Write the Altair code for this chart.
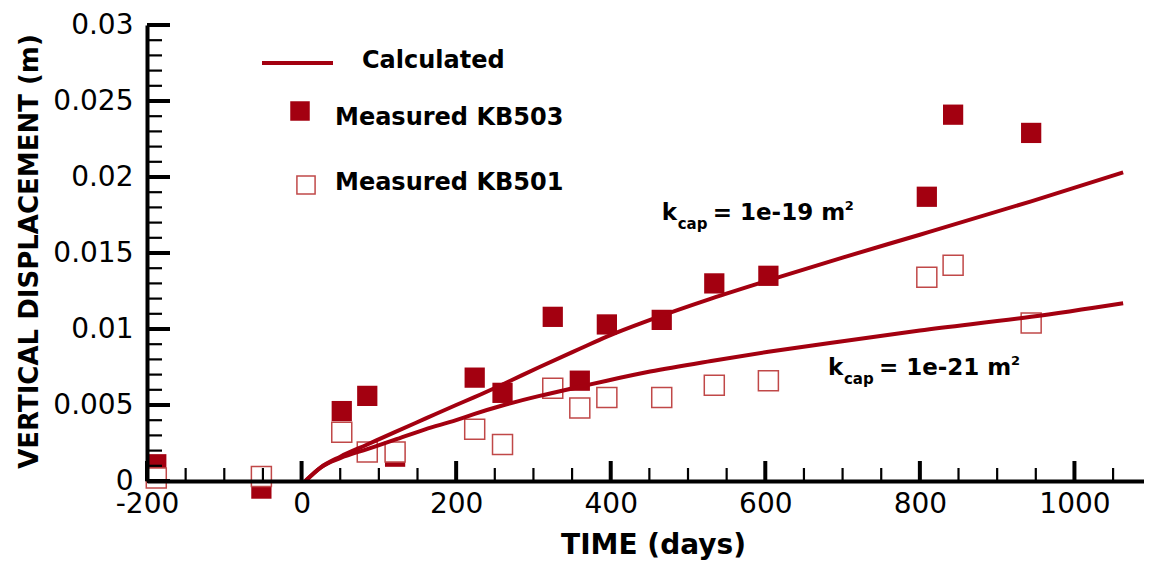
import altair as alt
import pandas as pd

# ---------------- data ----------------
meas_days = [-188, -52, 52, 85, 121, 224, 260, 325, 360, 395, 466, 534, 604, 809, 843, 944]
kb503 = [0.0011, -0.0005, 0.0046, 0.0056, 0.0016, 0.0068, 0.0058, 0.0108, 0.0066,
         0.0103, 0.0106, 0.0130, 0.0135, 0.0187, 0.0241, 0.0229]
kb501 = [0.0002, 0.0003, 0.0032, 0.0019, 0.0019, 0.0034, 0.0024, 0.0061, 0.0048,
         0.0055, 0.0055, 0.0063, 0.0066, 0.0134, 0.0142, 0.0104]

calc_days = [5, 25, 50, 85, 120, 160, 200, 223, 262, 308, 360, 395, 451, 530, 604, 700, 800, 944, 1063]
calc_k19 = [0.0, 0.0009, 0.0016, 0.0024, 0.0032, 0.0041, 0.0050, 0.0055, 0.0064, 0.0075,
            0.0087, 0.0095, 0.0106, 0.0120, 0.0132, 0.0147, 0.0162, 0.0184, 0.0203]
calc_k21 = [0.0, 0.0009, 0.0015, 0.0021, 0.0027, 0.0034, 0.0040, 0.0044, 0.0050, 0.0056,
            0.0062, 0.0066, 0.0072, 0.0079, 0.0085, 0.0092, 0.0099, 0.0108, 0.0117]

x_major = [-200, 0, 200, 400, 600, 800, 1000]
x_minor = [-150, -100, -50, 50, 100, 150, 250, 300, 350, 450, 500, 550, 650, 700, 750,
           850, 900, 950, 1050]
y_major = [0, 0.005, 0.01, 0.015, 0.02, 0.025, 0.03]
y_minor = [0.001, 0.002, 0.003, 0.004, 0.006, 0.007, 0.008, 0.009, 0.011, 0.012, 0.013,
           0.014, 0.016, 0.017, 0.018, 0.019, 0.021, 0.022, 0.023, 0.024, 0.026, 0.027,
           0.028, 0.029]

ann_day = [466, 681]
ann_val = [0.0172, 0.0070]
ann_text = ["= 1e-19 m", "= 1e-21 m"]

legend_labels = ["Calculated", "Measured KB503", "Measured KB501"]

# ---------------- style ----------------
RED = "#a30010"
OPEN = "#c04848"
FONT = "DejaVu Sans"
W, H = 997, 456

meas = pd.DataFrame({"day": meas_days, "kb503": kb503, "kb501": kb501})
calc = pd.DataFrame({"day": calc_days * 2,
                     "disp": calc_k19 + calc_k21,
                     "case": ["k19"] * len(calc_days) + ["k21"] * len(calc_days)})
xmaj = pd.DataFrame({"d": x_major})
xmin = pd.DataFrame({"d": x_minor})
ymaj = pd.DataFrame({"v": y_major})
ymin = pd.DataFrame({"v": y_minor})
ann = pd.DataFrame({"day": ann_day, "val": ann_val, "txt": ann_text})
one = pd.DataFrame({"k": [0]})

xs = alt.Scale(domain=[-200, 1090], nice=False, zero=False)
ys = alt.Scale(domain=[0, 0.03], nice=False, zero=False)

xax = alt.Axis(values=x_major, format="d", labelExpr="replace(datum.label, '\u2212', '-')",
               title="TIME (days)", grid=False, ticks=False,
               tickSize=0, labelFontSize=28, labelPadding=9, labelFlush=False,
               domainWidth=4, domainColor="black", labelColor="black",
               titleFontSize=28, titleFontWeight="bold", titleColor="black",
               titleX=506, titleY=64, titleBaseline="middle", titleAlign="center", zindex=1)
yax = alt.Axis(values=y_major, format="~g", title="VERTICAL DISPLACEMENT (m)", grid=False,
               ticks=False, tickSize=0, labelFontSize=28, labelPadding=14, labelFlush=False,
               domainWidth=4, domainColor="black", labelColor="black",
               titleFontSize=26, titleFontWeight="bold", titleColor="black",
               titleX=-118, titleY=226, titleAngle=270, titleBaseline="middle",
               titleAlign="center", zindex=1)

filled = alt.Chart(meas).mark_point(shape="square", filled=True, size=410, color=RED, opacity=1).encode(
    x=alt.X("day:Q", scale=xs, axis=xax),
    y=alt.Y("kb503:Q", scale=ys, axis=yax),
)
opened = alt.Chart(meas).mark_point(shape="square", filled=True, size=400, fill="white",
                                    stroke=OPEN, strokeWidth=1.5, opacity=1).encode(
    x=alt.X("day:Q", scale=xs),
    y=alt.Y("kb501:Q", scale=ys),
)
lines = alt.Chart(calc).mark_line(color=RED, strokeWidth=4, interpolate="monotone").encode(
    x=alt.X("day:Q", scale=xs),
    y=alt.Y("disp:Q", scale=ys),
    detail="case:N",
)

xt_major = alt.Chart(xmaj).mark_rule(color="black", strokeWidth=4).encode(
    x=alt.X("d:Q", scale=xs), y=alt.value(H), y2=alt.value(H - 20))
xt_minor = alt.Chart(xmin).mark_rule(color="black", strokeWidth=2.2).encode(
    x=alt.X("d:Q", scale=xs), y=alt.value(H), y2=alt.value(H - 13))
yt_major = alt.Chart(ymaj).mark_rule(color="black", strokeWidth=4).encode(
    y=alt.Y("v:Q", scale=ys), x=alt.value(0), x2=alt.value(23))
yt_minor = alt.Chart(ymin).mark_rule(color="black", strokeWidth=2.2).encode(
    y=alt.Y("v:Q", scale=ys), x=alt.value(0), x2=alt.value(15))

# annotations k_cap
ann_k = alt.Chart(ann).mark_text(text="k", font=FONT, fontWeight="bold", fontSize=23,
                                 align="left", baseline="alphabetic", color="black").encode(
    x=alt.X("day:Q", scale=xs), y=alt.Y("val:Q", scale=ys))
ann_sub = alt.Chart(ann).mark_text(text="cap", font=FONT, fontWeight="bold", fontSize=15,
                                   align="left", baseline="alphabetic", dx=16, dy=9,
                                   color="black").encode(
    x=alt.X("day:Q", scale=xs), y=alt.Y("val:Q", scale=ys))
ann_main = alt.Chart(ann).mark_text(font=FONT, fontWeight="bold", fontSize=23, align="left",
                                    baseline="alphabetic", dx=51, color="black").encode(
    x=alt.X("day:Q", scale=xs), y=alt.Y("val:Q", scale=ys), text="txt:N")
ann_sup = alt.Chart(ann).mark_text(text="2", font=FONT, fontWeight="bold", fontSize=13,
                                   align="left", baseline="alphabetic", dx=183, dy=-10,
                                   color="black").encode(
    x=alt.X("day:Q", scale=xs), y=alt.Y("val:Q", scale=ys))

# legend
leg_line = alt.Chart(one).mark_rule(color=RED, strokeWidth=4).encode(
    x=alt.value(115), x2=alt.value(186), y=alt.value(38))
leg_sq1 = alt.Chart(one).mark_point(shape="square", filled=True, size=380, color=RED, opacity=1).encode(
    x=alt.value(153), y=alt.value(86))
leg_sq2 = alt.Chart(one).mark_point(shape="square", filled=True, size=330, fill="white",
                                    stroke=OPEN, strokeWidth=1.5, opacity=1).encode(
    x=alt.value(159), y=alt.value(160))
leg_t1 = alt.Chart(one).mark_text(text=legend_labels[0], font=FONT, fontWeight="bold", fontSize=24,
                                  align="left", baseline="alphabetic", color="black").encode(
    x=alt.value(215), y=alt.value(43))
leg_t2 = alt.Chart(one).mark_text(text=legend_labels[1], font=FONT, fontWeight="bold", fontSize=24,
                                  align="left", baseline="alphabetic", color="black").encode(
    x=alt.value(188), y=alt.value(100))
leg_t3 = alt.Chart(one).mark_text(text=legend_labels[2], font=FONT, fontWeight="bold", fontSize=24,
                                  align="left", baseline="alphabetic", color="black").encode(
    x=alt.value(188), y=alt.value(165))

chart = alt.layer(
    filled, opened, lines,
    xt_minor, xt_major, yt_minor, yt_major,
    ann_k, ann_sub, ann_main, ann_sup,
    leg_line, leg_sq1, leg_sq2, leg_t1, leg_t2, leg_t3,
).properties(
    width=W, height=H,
    padding={"left": 139, "top": 17, "right": 0, "bottom": 80},
    autosize=alt.AutoSizeParams(type="none"),
).configure_view(stroke=None).configure_axis(
    labelFont=FONT, titleFont=FONT
)

chart.save("out.html", embed_options={"renderer": "svg", "actions": False})
